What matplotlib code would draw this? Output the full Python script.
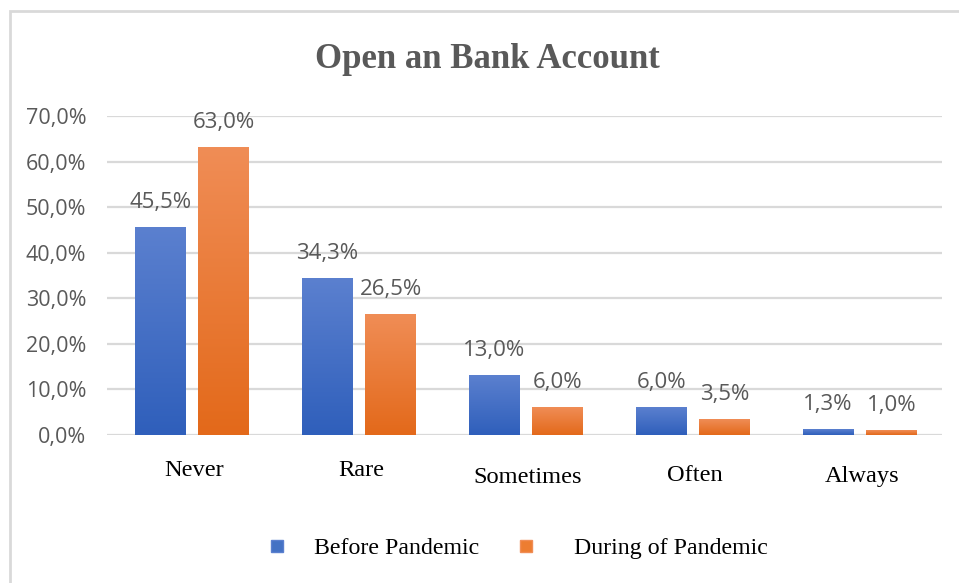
import numpy as np
import matplotlib
matplotlib.use("Agg")
import matplotlib.pyplot as plt
from matplotlib.colors import LinearSegmentedColormap
from matplotlib.lines import Line2D
from matplotlib.patches import Rectangle
import matplotlib.transforms as mtransforms

# ---- data ----
categories = ["Never", "Rare", "Sometimes", "Often", "Always"]
before_pandemic = [45.5, 34.3, 13.0, 6.0, 1.3]
during_pandemic = [63.0, 26.5, 6.0, 3.5, 1.0]
series_names = ["Before Pandemic", "During of Pandemic"]
title = "Open an Bank Account"
yticks = [0, 10, 20, 30, 40, 50, 60, 70]

def pct(v):
    return f"{v:.1f}%".replace(".", ",")

W, H = 959, 583
fig = plt.figure(figsize=(W / 100, H / 100), dpi=100)
fig.patch.set_facecolor("white")

# outer chart border (cropped on right/bottom)
fig.patches.append(Rectangle((10 / W, -0.2), 1.5, 1.2 - 11 / H, transform=fig.transFigure,
                             fill=False, edgecolor="#d9d9d9", linewidth=2, zorder=0))

ax = fig.add_axes([107 / W, 1 - 435 / H, (942 - 107) / W, (435 - 116) / H])
ax.set_facecolor("none")

x = np.arange(len(categories))
bw = 0.305
off = 0.19
b1 = ax.bar(x - off + 0.008, before_pandemic, bw, color="#4472c4", zorder=2)
b2 = ax.bar(x + off + 0.008, during_pandemic, bw, color="#ed7d31", zorder=2)

cmap_blue = LinearSegmentedColormap.from_list("b", ["#2f5fbb", "#5b80cf"])
cmap_orange = LinearSegmentedColormap.from_list("o", ["#e3691a", "#f08d56"])
grad = np.linspace(0, 1, 256).reshape(-1, 1)
for bars, cmap in ((b1, cmap_blue), (b2, cmap_orange)):
    for p in bars:
        x0, w, h = p.get_x(), p.get_width(), p.get_height()
        ax.imshow(grad, cmap=cmap, origin="lower", aspect="auto",
                  extent=[x0, x0 + w, 0, h], zorder=3, interpolation="bilinear")
        p.set_visible(False)

ax.set_xlim(-0.5, len(categories) - 0.5)
ax.set_ylim(0, 70)

ax.set_yticks(yticks)
ax.set_yticklabels([pct(v) for v in yticks], fontfamily="Open Sans", fontsize=15.5, color="#595959")
ax.tick_params(axis="y", length=0, pad=15)
ax.set_xticks([])
ax.grid(axis="y", color="#d9d9d9", linewidth=1.6, zorder=0)
ax.set_axisbelow(True)
for s in ax.spines.values():
    s.set_visible(False)

# data labels
for bars, vals in ((b1, before_pandemic), (b2, during_pandemic)):
    for p, v in zip(bars, vals):
        ax.annotate(pct(v), (p.get_x() + p.get_width() / 2, v), xytext=(0, 14),
                    textcoords="offset points", ha="center", va="baseline",
                    fontfamily="Open Sans", fontsize=16, color="#595959", zorder=5)

# category labels (serif), with slight per-label vertical shifts
label_drop_px = [41, 41, 48, 46, 47]
base = mtransforms.blended_transform_factory(ax.transData, ax.transAxes)
for xi, cat, d in zip(x, categories, label_drop_px):
    tr = base + mtransforms.ScaledTranslation(0, -d / 100, fig.dpi_scale_trans)
    ax.text(xi + 0.02, 0, cat, transform=tr, ha="center", va="baseline",
            fontfamily="Liberation Serif", fontsize=17.6, color="black")

# title
fig.text(487 / W, 1 - 68 / H, title, ha="center", va="baseline",
         fontfamily="Liberation Serif", fontweight="bold", fontsize=25, color="#595959")

# legend (two entries placed separately to match spacing)
fs = 17.2
fs_px = fs * 100 / 72
entries = [
    (series_names[0], "#4472c4", "#5b80cf", 270, 31),
    (series_names[1], "#ed7d31", "#f08d56", 519, 42),
]
for name, fc, ec, left_px, gap_px in entries:
    h = Line2D([], [], linestyle="none", marker="s", markersize=9.2,
               markerfacecolor=fc, markeredgecolor=ec)
    lg = fig.legend([h], [name], loc="center left",
                    bbox_to_anchor=(left_px / W, 1 - 548 / H), frameon=False,
                    prop={"family": "Liberation Serif", "size": fs},
                    handlelength=13 / fs_px, handletextpad=gap_px / fs_px,
                    borderpad=0, borderaxespad=0)

fig.savefig("out.png", dpi=100)
